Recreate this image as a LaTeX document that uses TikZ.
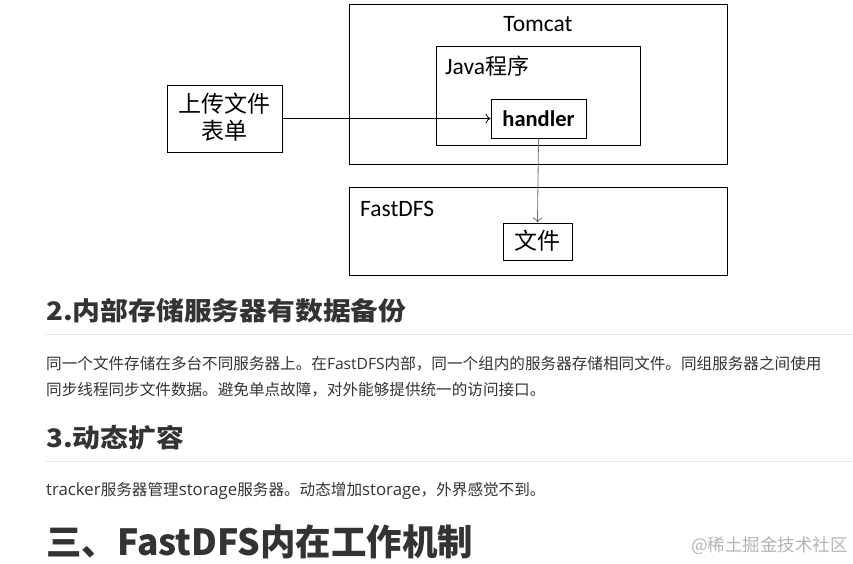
\documentclass[tikz,border=0pt]{standalone}
\usepackage{fontspec}
\setmainfont{Carlito}
\newfontfamily\cjk{Noto Sans CJK SC}
\newfontfamily\os{Open Sans}
\newcommand\lat[1]{{\os\fontsize{16.8}{20}\selectfont #1}}
\definecolor{txt}{HTML}{333333}
\definecolor{rule}{HTML}{E8E8E8}
\definecolor{arrowgray}{HTML}{707070}
\definecolor{wm}{HTML}{B4B4B4}
\usetikzlibrary{arrows.meta}
\tikzset{
  box/.style={draw=black, line width=0.9pt, inner sep=0pt, fill=white},
  lbl/.style={inner sep=0pt, font=\fontsize{23.5}{26}\selectfont},
  cjklbl/.style={inner sep=0pt, font=\cjk\fontsize{23}{27}\selectfont, align=center},
  conn/.style={line width=0.8pt, -{To[length=5pt,width=10pt]}},
  head/.style={inner sep=0pt, anchor=west, text=txt, font=\cjk\bfseries\fontsize{25.5}{30}\selectfont},
  para/.style={inner sep=0pt, anchor=west, text=txt, font=\cjk\fontsize{15.6}{20}\selectfont},
  hrule/.style={draw=rule, line width=1pt}
}
\begin{document}
\begin{tikzpicture}[x=1pt,y=-1pt]
\useasboundingbox[fill=white] (0,0) rectangle (853,563);
% diagram boxes
\node[box, minimum width=378pt, minimum height=160pt] (tomcat) at (538,84) {};
\node[lbl] (tomcatl) at (538,24) {Tomcat};
\node[box, minimum width=204pt, minimum height=99pt] (java) at (538,95.5) {};
\node[lbl, anchor=west] (javal) at (445,66) {Java{\cjk\fontsize{22}{24}\selectfont 程序}};
\node[box, minimum width=95pt, minimum height=39pt] (handler) at (538.5,118.5) {};
\node[lbl, font=\bfseries\fontsize{22.5}{24}\selectfont] (handlerl) at (538.5,118.5) {handler};
\node[box, minimum width=115pt, minimum height=67pt] (form) at (224.5,118.5) {};
\node[cjklbl] (forml) at (224.5,117.5) {上传文件\\[0pt]表单};
\node[box, minimum width=378pt, minimum height=88pt] (fastdfs) at (538,231) {};
\node[lbl, anchor=west] (fastdfsl) at (360,209) {FastDFS};
\node[box, minimum width=69pt, minimum height=37pt] (file) at (537.5,241.5) {};
\node[cjklbl] (filel) at (537.5,241) {文件};
% connectors
\draw[conn] (form.east) -- (handler.west);
\draw[conn, draw=arrowgray] (handler.south) -- (file.north);
% page text
\node[head] (h2) at (46,311) {\scalebox{1.09}[1]{2.内部存储服务器有数据备份}};
\coordinate (r1a) at (46,334);
\coordinate (r1b) at (853,334);
\draw[hrule] (r1a) -- (r1b);
\node[para] (p1) at (46,364) {同一个文件存储在多台不同服务器上。在{\os\fontsize{15.6}{20}\selectfont FastDFS}内部，同一个组内的服务器存储相同文件。同组服务器之间使用};
\node[para] (p2) at (46,390) {同步线程同步文件数据。避免单点故障，对外能够提供统一的访问接口。};
\node[head] (h3) at (46,438) {\scalebox{1.09}[1]{3.动态扩容}};
\coordinate (r2a) at (46,461);
\coordinate (r2b) at (853,461);
\draw[hrule] (r2a) -- (r2b);
\node[para] (p3) at (46,491) {\lat{tracker}服务器管理\lat{storage}服务器。动态增加\lat{storage}，外界感觉不到。};
\node[head, font=\cjk\bfseries\fontsize{36}{40}\selectfont] (h4) at (46,542) {\scalebox{0.985}[1]{三、FastDFS内在工作机制}};
\node[inner sep=0pt, anchor=east, text=wm, font=\cjk\fontsize{17.5}{20}\selectfont] (wm) at (848,546) {@稀土掘金技术社区};
\end{tikzpicture}
\end{document}
